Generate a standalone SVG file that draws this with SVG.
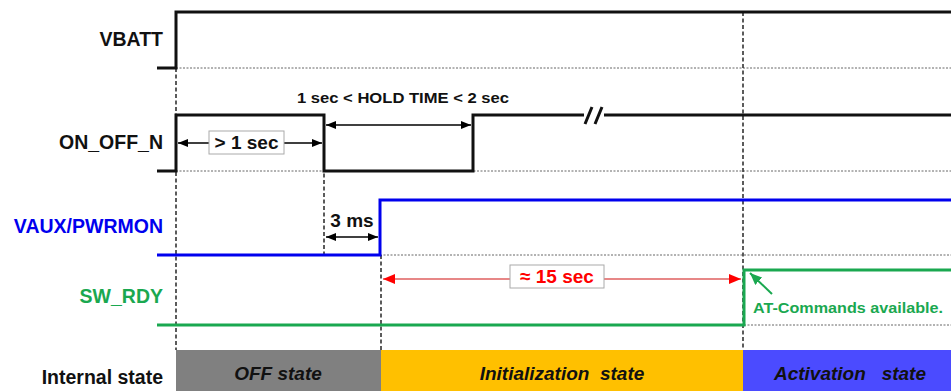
<svg xmlns="http://www.w3.org/2000/svg" width="951" height="391" viewBox="0 0 951 391">
<style>
.lbl{font-family:"Liberation Sans",Arial,sans-serif;font-weight:bold;font-size:19.5px;text-anchor:end}
.t{font-family:"Liberation Sans",Arial,sans-serif;font-weight:bold}
.sig{fill:none;stroke:#111;stroke-width:3}
.dot{fill:none;stroke:#666;stroke-width:1;stroke-dasharray:2 1.5}
.dash{fill:none;stroke:#333;stroke-width:1.6;stroke-dasharray:4 2.5}
.dim{fill:none;stroke:#000;stroke-width:1.3}
.st{font-family:"Liberation Sans",Arial,sans-serif;font-weight:bold;font-style:italic;font-size:19px;text-anchor:middle;fill:#111}
</style>
<defs>
<marker id="ab" viewBox="0 0 10 8" refX="10" refY="4" markerWidth="10" markerHeight="8" markerUnits="userSpaceOnUse" orient="auto-start-reverse"><path d="M0,0L10,4L0,8z" fill="#000"/></marker>
<marker id="ar" viewBox="0 0 12 10" refX="12" refY="5" markerWidth="12" markerHeight="10" markerUnits="userSpaceOnUse" orient="auto-start-reverse"><path d="M0,0L12,5L0,10z" fill="#ff0000"/></marker>
<marker id="ag" viewBox="0 0 12 10" refX="12" refY="5" markerWidth="12" markerHeight="10" markerUnits="userSpaceOnUse" orient="auto"><path d="M0,0L12,5L0,10z" fill="#1aa850"/></marker>
</defs>
<rect width="951" height="391" fill="#fff"/>

<g id="state-bar">
<rect x="176" y="350" width="205" height="41" fill="#808080"/>
<rect x="381" y="350" width="362" height="41" fill="#ffc000"/>
<rect x="743" y="350" width="208" height="41" fill="#4b4bff"/>
<text class="st" x="278" y="380">OFF state</text>
<text class="st" x="562" y="380" xml:space="preserve">Initialization  state</text>
<text class="st" x="850" y="380" xml:space="preserve">Activation   state</text>
</g>

<g id="labels">
<text class="lbl" x="163" y="46" fill="#111">VBATT</text>
<text class="lbl" x="163" y="149" fill="#111">ON_OFF_N</text>
<text class="lbl" x="163" y="233" fill="#0000ee">VAUX/PWRMON</text>
<text class="lbl" x="163" y="303" fill="#1aa850">SW_RDY</text>
<text class="lbl" x="163" y="384" fill="#111">Internal state</text>
</g>

<g id="gridlines">
<path class="dot" d="M176,68H951M176,171H951M380,255H951M380,325H951"/>
<path class="dash" d="M176,68V350M324,115V255M381,255V350M743,12V350"/>
</g>

<g id="signals">
<path id="vbatt" class="sig" d="M157,68H176V12H951"/>
<path id="onoff" class="sig" d="M157,171H176V115H324V171H473V115H584M604,115H951"/>
<path class="sig" stroke-width="1.8" d="M585,124L592,107M595,124L602,107"/>
<path id="vaux" class="sig" style="stroke:#0000ee" d="M157,255H380V200H951"/>
<path id="swrdy" class="sig" style="stroke:#1aa850" d="M157,325H744V270H951"/>
</g>

<g id="connectors">
<path class="dim" d="M178,143H209M284,143H322" marker-start="url(#ab)" marker-end="url(#ab)"/>
<path class="dim" d="M326,125H471" marker-start="url(#ab)" marker-end="url(#ab)"/>
<path class="dim" d="M326,237H378" marker-start="url(#ab)" marker-end="url(#ab)"/>
<path fill="none" stroke="#e06060" stroke-width="1.5" d="M383,279H510M604,279H741" marker-start="url(#ar)" marker-end="url(#ar)"/>
<path fill="none" stroke="#1aa850" stroke-width="2" d="M772,294L750,273" marker-end="url(#ag)"/>
</g>

<g id="annotations">
<rect x="209" y="131" width="75" height="23" fill="#fff" stroke="#aaa" stroke-width="1"/>
<text class="t" x="246.5" y="149" font-size="19" text-anchor="middle" fill="#111">&gt; 1 sec</text>
<text class="t" x="297" y="103" font-size="15.5" textLength="212" lengthAdjust="spacingAndGlyphs" fill="#111">1 sec &lt; HOLD TIME &lt; 2 sec</text>
<text class="t" x="352" y="227" font-size="19" text-anchor="middle" fill="#111">3 ms</text>
<rect x="510" y="265" width="94" height="23" fill="#fff" stroke="#aaa" stroke-width="1"/>
<text class="t" x="557" y="283" font-size="19" text-anchor="middle" fill="#ff0000">≈ 15 sec</text>
<text class="t" x="753" y="313" font-size="15.5" textLength="190" lengthAdjust="spacingAndGlyphs" fill="#1aa850">AT-Commands available.</text>
</g>
</svg>
